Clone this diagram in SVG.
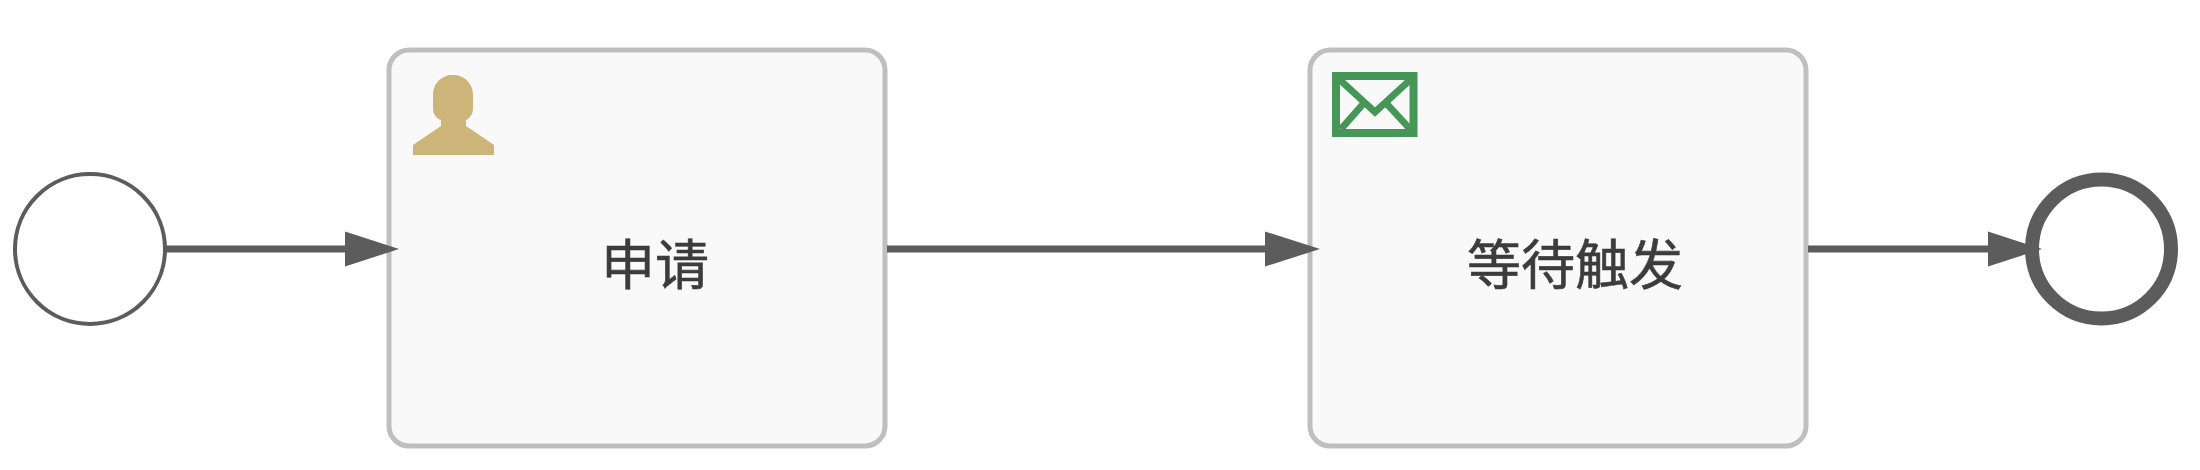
<svg xmlns="http://www.w3.org/2000/svg" width="2200" height="470" viewBox="0 0 2200 470">
<style>
.task{fill:#f9f9f9;stroke:#bfbfbf;stroke-width:5}
.flow{fill:none;stroke:#5c5c5c;stroke-width:7}
.head{fill:#5c5c5c}
.label{font-family:"Noto Sans CJK SC","Liberation Sans",sans-serif;font-size:54px;font-weight:400;fill:#3c3c3c;stroke:#3c3c3c;stroke-width:.6;text-anchor:middle}
</style>
<rect width="2200" height="470" fill="#fff"/>
<g id="start"><circle cx="90" cy="249" r="75" fill="#fff" stroke="#5c5c5c" stroke-width="4"/></g>
<g id="task1">
<rect class="task" x="389" y="50" width="496" height="396" rx="20"/>
<path fill="#cdb478" d="M413 155V145L441 126V120C436 118 433 114 433 108V95C433 83 442 75 453 75C464 75 473 83 473 95V108C473 114 470 118 466 120V126L494 145V155Z"/>
<text class="label" x="655" y="285">申请</text>
</g>
<g id="task2">
<rect class="task" x="1310" y="50" width="496" height="396" rx="20"/>
<rect x="1336" y="76" width="77.500" height="57" fill="none" stroke="#459657" stroke-width="8"/>
<path fill="none" stroke="#459657" stroke-width="7" d="M1340 80L1375 112L1410 80M1341 129L1364 103M1410 129L1386 103"/>
<text class="label" x="1575" y="285">等待触发</text>
</g>
<g id="end"><circle cx="2101.500" cy="249" r="69.500" fill="#fff" stroke="#5c5c5c" stroke-width="14"/></g>
<g id="connectors">
<path class="flow" d="M166 249H346"/>
<polygon class="head" points="345,231.500 399,249 345,266.500"/>
<path class="flow" d="M887 249H1266"/>
<polygon class="head" points="1265,231.500 1320,249 1265,266.500"/>
<path class="flow" d="M1808 249H1990"/>
<polygon class="head" points="1988,231.500 2042,249 1988,266.500"/>
</g>
</svg>
